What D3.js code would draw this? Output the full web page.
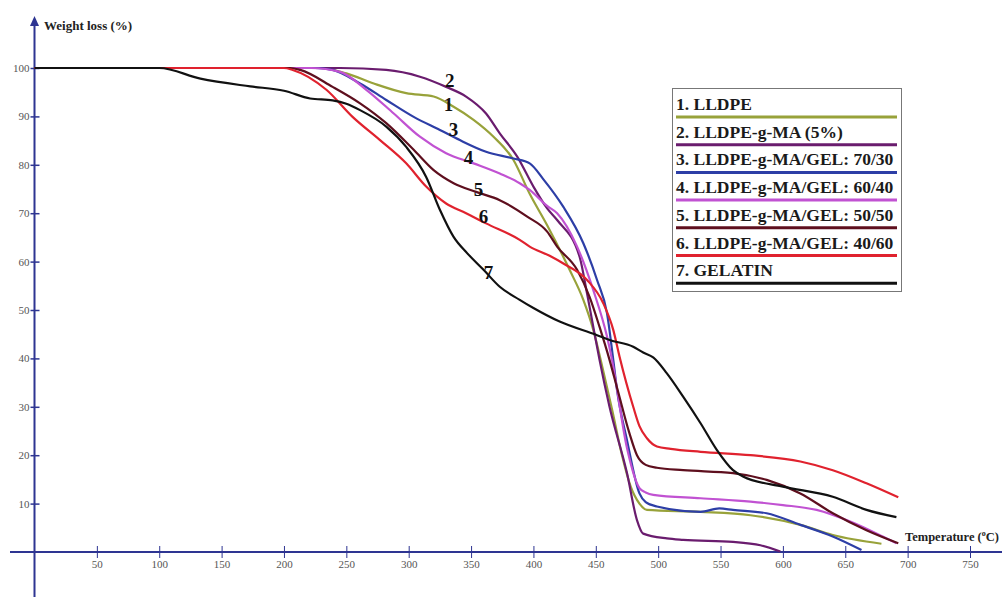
<!DOCTYPE html>
<html>
<head>
<meta charset="utf-8">
<script src="https://cdn.jsdelivr.net/npm/d3@7"></script>
<style>
  html, body { margin: 0; padding: 0; background: #fff; }
  svg { display: block; overflow: hidden; }
</style>
</head>
<body>
<svg id="chart" width="1002" height="597"></svg>
<script>
// Thermogravimetric curves: temperature (°C) vs remaining weight (%)
const seriesNames = [
  "1. LLDPE",
  "2. LLDPE-g-MA (5%)",
  "3. LLDPE-g-MA/GEL: 70/30",
  "4. LLDPE-g-MA/GEL: 60/40",
  "5. LLDPE-g-MA/GEL: 50/50",
  "6. LLDPE-g-MA/GEL: 40/60",
  "7. GELATIN"
];
const seriesColors = ["#98a23a", "#6a1c6e", "#2d3ea6", "#c152d2", "#5e0f1e", "#e0222e", "#111111"];

const lldpe = [[0,100],[230,100],[250,98.9],[272,96.8],[298,94.8],[320,94.1],[336,92],[352,89.3],[368,85.8],[384,81],[397,74],[411,67.5],[429,58.3],[440,52.1],[448,45.9],[455,38.5],[463,29.5],[471,20],[478,13.5],[485,10],[491,8.7],[534,8.3],[574,7.6],[614,5.6],[640,3.5],[679,1.7]];
const lldpeGMA = [[0,100],[245,100],[282,99.6],[309,98.2],[330,96.1],[346,94.1],[362,90.6],[373,86.5],[387,81.7],[400,75.5],[411,71],[419,68.6],[437,61],[443,53.4],[448,46.5],[453,39.7],[461,30],[475,16.3],[483,6.6],[488,3.8],[507,2.8],[520,2.5],[560,2.1],[582,1.4],[598,0.1]];
const gel7030 = [[0,100],[225,100],[239,99.6],[261,96.8],[282,93.4],[304,89.9],[325,87.2],[341,85.1],[362,82.7],[384,81.3],[397,80.3],[408,77],[424,71.3],[440,63.8],[451,56.2],[459,49.3],[464,39.7],[467,33.5],[475,23.1],[485,12.1],[490,10.3],[499,9.4],[534,8.3],[549,9],[560,8.7],[587,8],[614,5.6],[640,3.2],[663,0.4]];
const gel6040 = [[0,100],[222,100],[245,99.2],[266,95.5],[288,90.6],[309,85.8],[330,82.4],[352,80.3],[373,78.2],[389,76.2],[397,74.8],[411,71.5],[419,70],[435,63.1],[448,54.1],[459,44.5],[463,39.7],[475,21.5],[485,13.2],[490,12.3],[496,11.8],[534,11.1],[574,10.4],[600,9.7],[627,8.7],[654,6.3],[680,3.2],[691,1.8]];
const gel5050 = [[0,100],[205,100],[213,99.6],[239,96.1],[261,92.7],[282,88.6],[304,83.1],[320,78.9],[336,76.2],[354,74.4],[373,72.7],[395,69.3],[411,66.2],[419,63.1],[435,58.3],[445,52.7],[453,46.5],[461,39.7],[468,33],[477,24.5],[483,20],[490,18],[499,17.4],[520,16.9],[560,16.3],[587,14.9],[614,12.1],[640,8],[667,4.5],[692.5,1.8]];
const gel4060 = [[0,100],[200,100],[207,99.6],[234,95.5],[255,89.9],[277,85.1],[298,80.3],[314,75.5],[330,72],[346,70],[362,67.9],[389,64.5],[397,63.1],[413,61.2],[424,59.6],[443,56.2],[456,51.4],[464,45.9],[469,40.4],[480,30],[485,26],[491,23.5],[499,21.8],[510,21.3],[534,20.7],[574,20],[614,18.7],[640,16.9],[667,14.2],[692.5,11.3]];
const gelatin = [[0,100],[100,100],[133,97.8],[173,96.2],[200,95.3],[221,93.7],[239,93.3],[250,92.6],[261,91.3],[282,87.9],[298,83.7],[314,77.5],[325,70.7],[336,65.1],[347,61.7],[360,58.3],[373,54.8],[389,52.1],[400,50.4],[421,47.6],[451,44.8],[461,43.8],[480,42.4],[488,41.2],[496,40.2],[507,36.9],[520,32.1],[534,26.6],[547,21.1],[560,16.9],[568,15.6],[600,13.5],[640,11.4],[667,8.7],[691,7.2]];

const seriesData = [lldpe, lldpeGMA, gel7030, gel6040, gel5050, gel4060, gelatin];

// Curve number tags, placed in data units (°C, %)
const tagText = ["1", "2", "3", "4", "5", "6", "7"];
const tagAt = [[332, 92.5], [333, 97.5], [336, 87.3], [348, 81.5], [356, 74.9], [360, 69.4], [364, 57.8]];

const xTicks = [50, 100, 150, 200, 250, 300, 350, 400, 450, 500, 550, 600, 650, 700, 750];
const yTicks = [10, 20, 30, 40, 50, 60, 70, 80, 90, 100];

const axisColor = "#2e3592";
const serif = "'Liberation Serif', 'Times New Roman', serif";

const svg = d3.select("#chart");
const x = d3.scaleLinear().domain([0, 750]).range([34.5, 970]);
const y = d3.scaleLinear().domain([0, 100]).range([552, 68]);

// Axis lines
svg.append("line").attr("x1", 10).attr("x2", 1002).attr("y1", y(0)).attr("y2", y(0))
  .attr("stroke", axisColor).attr("stroke-width", 2);
svg.append("line").attr("x1", x(0)).attr("x2", x(0)).attr("y1", 24).attr("y2", 597)
  .attr("stroke", axisColor).attr("stroke-width", 2);
svg.append("path")
  .attr("d", `M${x(0)},16 L${x(0) - 4.5},26 L${x(0) + 4.5},26 Z`)
  .attr("fill", axisColor);

// X ticks
const gx = svg.append("g").attr("transform", `translate(0,${y(0)})`)
  .call(d3.axisBottom(x).tickValues(xTicks).tickSize(6).tickPadding(4));
gx.select(".domain").remove();
gx.selectAll(".tick line").attr("y1", -6).attr("y2", 6).attr("stroke", axisColor).attr("stroke-width", 1);
gx.selectAll(".tick text").attr("fill", "#555").attr("font-family", serif).attr("font-size", 11).attr("y", 8);

// Y ticks
const gy = svg.append("g").attr("transform", `translate(${x(0)},0)`)
  .call(d3.axisLeft(y).tickValues(yTicks).tickSize(4).tickPadding(1));
gy.select(".domain").remove();
gy.selectAll(".tick line").attr("x1", -4).attr("x2", 5).attr("stroke", axisColor).attr("stroke-width", 1.5);
gy.selectAll(".tick text").attr("fill", "#555").attr("font-family", serif).attr("font-size", 11);

// Axis titles
svg.append("text").attr("x", 44).attr("y", 30)
  .attr("font-family", serif).attr("font-weight", "bold").attr("font-size", 13).attr("fill", "#222")
  .text("Weight loss (%)");
const tt = svg.append("text").attr("x", 905).attr("y", 541)
  .attr("font-family", serif).attr("font-weight", "bold").attr("font-size", 12.5).attr("fill", "#222");
tt.append("tspan").text("Temperature (");
tt.append("tspan").attr("font-size", 8).attr("dy", -5).text("o");
tt.append("tspan").attr("dy", 5).text("C)");

// Curves
const line = d3.line().x(d => x(d[0])).y(d => y(d[1])).curve(d3.curveMonotoneX);
svg.append("g").selectAll("path").data(seriesData).join("path")
  .attr("d", line)
  .attr("fill", "none")
  .attr("stroke", (d, i) => seriesColors[i])
  .attr("stroke-width", 2.2)
  .attr("stroke-linejoin", "round");

// Curve tags
svg.append("g").selectAll("text").data(tagAt).join("text")
  .attr("x", d => x(d[0])).attr("y", d => y(d[1]))
  .attr("text-anchor", "middle").attr("dominant-baseline", "central")
  .attr("font-family", serif).attr("font-weight", "bold").attr("font-size", 19).attr("fill", "#111")
  .text((d, i) => tagText[i]);

// Legend
const lg = svg.append("g");
lg.append("rect").attr("x", 672.5).attr("y", 88.5).attr("width", 229).attr("height", 203)
  .attr("fill", "#fff").attr("stroke", "#777").attr("stroke-width", 1);
const rowH = 27.7;
const rows = lg.selectAll("g.row").data(seriesNames).join("g").attr("class", "row")
  .attr("transform", (d, i) => `translate(676,${110 + i * rowH})`);
rows.append("text").attr("x", 0).attr("y", 0)
  .attr("font-family", serif).attr("font-weight", "bold").attr("font-size", 17.5).attr("fill", "#1a1a1a")
  .text(d => d);
rows.append("line").attr("x1", 0).attr("x2", 221).attr("y1", 7).attr("y2", 7)
  .attr("stroke", (d, i) => seriesColors[i]).attr("stroke-width", 3);
</script>
</body>
</html>
